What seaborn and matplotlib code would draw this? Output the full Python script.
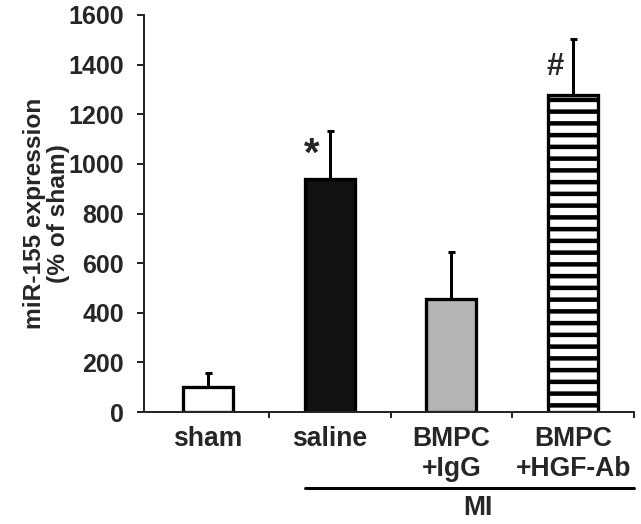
import numpy as np
import pandas as pd
import seaborn as sns
import matplotlib.pyplot as plt
from matplotlib.ticker import FixedLocator

groups = ["sham", "saline", "BMPC\n+IgG", "BMPC\n+HGF-Ab"]
means = [100, 940, 457, 1277]
sems = [57, 193, 188, 226]
fills = ["white", "#111111", "#b5b5b5", "white"]
hatches = ["", "", "", "--"]
marks = ["", "*", "", "#"]
mi_groups = ["saline", "BMPC\n+IgG", "BMPC\n+HGF-Ab"]

DPI = 141


def pt(px):
    # sizes below are worked out in output pixels
    return px * 72 / DPI


sns.set_style("ticks")
plt.rcParams["font.family"] = ["Liberation Sans", "DejaVu Sans"]
plt.rcParams["font.weight"] = "bold"
plt.rcParams["hatch.linewidth"] = pt(4.5)

df = pd.DataFrame({"group": groups, "value": means})

fig = plt.figure(figsize=(641 / DPI, 524 / DPI), dpi=DPI)
ax = fig.add_axes([144 / 641, 112 / 524, 490 / 641, 397 / 524])

sns.barplot(data=df, x="group", y="value", hue="group", palette=fills,
            legend=False, width=0.41, saturation=1, edgecolor="black",
            linewidth=pt(3.3), ax=ax, zorder=2)
for bar, h in zip(ax.patches, hatches):
    bar.set_hatch(h)

x = np.arange(len(groups))
ax.errorbar(x, means, yerr=[np.zeros(len(sems)), sems], fmt="none",
            ecolor="black", elinewidth=pt(3), capsize=pt(3.5),
            capthick=pt(3), zorder=1)

for i, (m, s, sym) in enumerate(zip(means, sems, marks)):
    if sym:
        ax.text(i - 0.145, m + s * 0.5, sym, ha="center", va="center",
                fontsize=pt(40) if sym == "*" else pt(31), fontweight="bold")

ax.set_xlim(-0.525, 3.5)
ax.set_ylim(0, 1600)
ax.set_yticks(range(0, 1601, 200))
ax.set_xticks(x, groups)
ax.xaxis.set_minor_locator(FixedLocator(x + 0.5))
ax.tick_params(axis="x", which="major", length=0, pad=pt(14),
               labelsize=pt(26.5))
ax.tick_params(axis="x", which="minor", length=pt(6), width=pt(2))
ax.tick_params(axis="y", length=pt(7), width=pt(2), pad=pt(13),
               labelsize=pt(25))
for lab in ax.get_xticklabels() + ax.get_yticklabels():
    lab.set_fontweight("bold")
ax.set_xlabel("")
ax.set_ylabel("miR-155 expression\n(% of sham)", fontsize=pt(24.5),
              fontweight="bold", linespacing=1.05)
ax.yaxis.set_label_coords(-0.152, 0.5)

sns.despine(ax=ax)
for sp in ["left", "bottom"]:
    ax.spines[sp].set_linewidth(pt(2))

# MI bracket under the last three groups
trans = ax.get_xaxis_transform()
first = groups.index(mi_groups[0])
ax.plot([first - 0.205, len(groups) - 0.5], [-0.191, -0.191], color="black",
        lw=pt(3), transform=trans, clip_on=False)
ax.text(2.22, -0.243, "MI", transform=trans, ha="center", va="center",
        fontsize=pt(26.5), fontweight="bold")

fig.savefig("out.png", dpi=DPI)
